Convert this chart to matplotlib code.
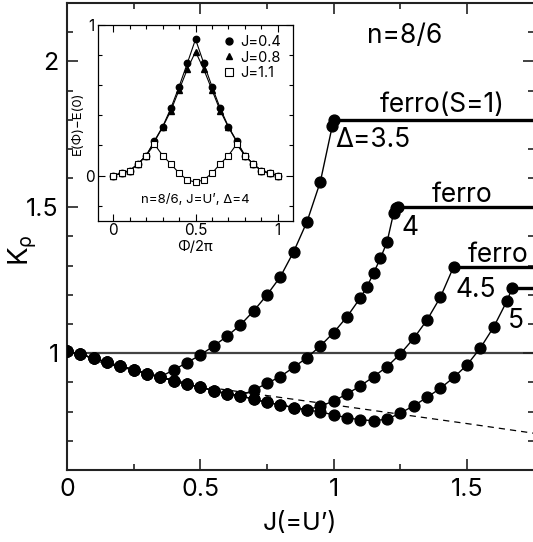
import matplotlib
matplotlib.use("Agg")
import matplotlib.pyplot as plt
from matplotlib.ticker import MultipleLocator, FixedLocator
from matplotlib.lines import Line2D

plt.rcParams['font.family'] = ['Inter', 'Liberation Sans', 'DejaVu Sans']
plt.rcParams['mathtext.fontset'] = 'custom'
plt.rcParams['mathtext.rm'] = 'Inter'
plt.rcParams['mathtext.it'] = 'Inter'

# ---------------- main data ----------------
# shared low-J part (all Delta)
J_common = [0.00, 0.05, 0.10, 0.15, 0.20, 0.25, 0.30, 0.35]
K_common = [1.008, 0.996, 0.983, 0.969, 0.955, 0.944, 0.930, 0.919]

# Delta = 3.5
J_d35 = [0.40, 0.45, 0.50, 0.55, 0.60, 0.65, 0.70, 0.75, 0.80, 0.85, 0.90, 0.95, 0.995, 1.00]
K_d35 = [0.943, 0.968, 0.994, 1.025, 1.058, 1.097, 1.145, 1.200, 1.262, 1.348, 1.451, 1.588, 1.780, 1.800]

# continuing common part for Delta >= 4
J_common2 = [0.40, 0.45, 0.50, 0.55, 0.60, 0.65]
K_common2 = [0.905, 0.894, 0.884, 0.872, 0.861, 0.855]

# Delta = 4
J_d4 = [0.70, 0.75, 0.80, 0.85, 0.90, 0.95, 1.00, 1.05, 1.10, 1.125, 1.15, 1.175, 1.20, 1.225, 1.235, 1.24]
K_d4 = [0.874, 0.897, 0.920, 0.952, 0.985, 1.025, 1.071, 1.125, 1.190, 1.228, 1.276, 1.325, 1.381, 1.482, 1.497, 1.500]

# continuing common part for Delta >= 4.5
J_common3 = [0.70, 0.75, 0.80, 0.85, 0.90]
K_common3 = [0.842, 0.832, 0.823, 0.814, 0.806]

# Delta = 4.5
J_d45 = [0.95, 1.00, 1.05, 1.10, 1.15, 1.20, 1.25, 1.30, 1.35, 1.40, 1.45]
K_d45 = [0.819, 0.836, 0.861, 0.888, 0.920, 0.954, 0.998, 1.051, 1.114, 1.192, 1.297]

# Delta = 5
J_d5 = [0.95, 1.00, 1.05, 1.10, 1.15, 1.20, 1.25, 1.30, 1.35, 1.40, 1.45, 1.50, 1.55, 1.60, 1.65, 1.67]
K_d5 = [0.799, 0.789, 0.779, 0.772, 0.769, 0.774, 0.795, 0.820, 0.849, 0.880, 0.917, 0.960, 1.018, 1.090, 1.180, 1.225]

# dashed reference curve
J_dash = [0.0, 0.25, 0.50, 0.75, 1.00, 1.25, 1.50, 1.75]
K_dash = [1.0, 0.940, 0.887, 0.855, 0.823, 0.791, 0.759, 0.726]

# ---------------- inset data ----------------
phi = [0.00, 0.05, 0.10, 0.15, 0.20, 0.25, 0.30, 0.35, 0.40, 0.45, 0.50,
       0.55, 0.60, 0.65, 0.70, 0.75, 0.80, 0.85, 0.90, 0.95, 1.00]
E_J04 = [0, 0.0155, 0.033, 0.077, 0.133, 0.230, 0.325, 0.447, 0.591, 0.746, 0.905,
         0.746, 0.591, 0.447, 0.325, 0.230, 0.133, 0.077, 0.033, 0.0155, 0]
E_J08 = [0, 0.0155, 0.033, 0.077, 0.133, 0.225, 0.321, 0.431, 0.569, 0.706, 0.823,
         0.706, 0.569, 0.431, 0.321, 0.225, 0.133, 0.077, 0.033, 0.0155, 0]
E_J11 = [0, 0.0155, 0.033, 0.077, 0.133, 0.208, 0.133, 0.077, 0.0155, -0.029, -0.044,
         -0.029, 0.0155, 0.077, 0.133, 0.208, 0.133, 0.077, 0.033, 0.0155, 0]

XMAX = 1.75

fig = plt.figure(figsize=(5.33, 5.42), dpi=100)
W, H = 533.0, 542.0
ax = fig.add_axes([67 / W, 1 - 470 / H, (1.75 * 266.7) / W, (470 - 3) / H])

ax.axhline(1.0, color='#444444', lw=1.6, zorder=1)
ax.plot(J_dash, K_dash, color='black', lw=0.9, ls=(0, (5, 4)), zorder=1)

mk = dict(color='black', lw=1.0, marker='o', ms=7.8, zorder=3)
curves = [
    (J_common + J_d35, K_common + K_d35),
    (J_common + J_common2 + J_d4, K_common + K_common2 + K_d4),
    (J_common + J_common2 + J_common3 + J_d45, K_common + K_common2 + K_common3 + K_d45),
    (J_common + J_common2 + J_common3 + J_d5, K_common + K_common2 + K_common3 + K_d5),
]
for Jc, Kc in curves:
    ax.plot(Jc, Kc, **mk)
    ax.plot([Jc[-1], XMAX], [Kc[-1], Kc[-1]], color='black', lw=2.4, zorder=2,
            solid_capstyle='butt')

ax.set_xlim(0, XMAX)
ax.set_ylim(0.6, 2.2)
ax.xaxis.set_major_locator(FixedLocator([0, 0.5, 1.0, 1.5]))
ax.xaxis.set_minor_locator(MultipleLocator(0.25))
ax.yaxis.set_major_locator(FixedLocator([1.0, 1.5, 2.0]))
ax.yaxis.set_minor_locator(MultipleLocator(0.1))
ax.set_xticklabels(['0', '0.5', '1', '1.5'])
ax.set_yticklabels(['1', '1.5', '2'])
ax.tick_params(which='both', direction='in', top=True, right=True, width=1.2,
               labelsize=18, color='#222222')
ax.tick_params(which='major', length=8, pad=6)
ax.tick_params(which='minor', length=4)
for s in ax.spines.values():
    s.set_linewidth(1.5)
    s.set_color('#222222')
ax.spines['right'].set_visible(False)

ax.set_xlabel("J(=U’)", fontsize=18, labelpad=8)
ax.set_ylabel(r"K$_\rho$", fontsize=20)
ax.yaxis.set_label_coords(-0.06, 0.47)

tk = dict(fontsize=19, ha='left', va='baseline')
ax.text(1.125, 2.063, "n=8/6", **tk)
ax.text(1.174, 1.827, "ferro(S=1)", **tk)
ax.text(1.005, 1.708, "Δ=3.5", **tk)
ax.text(1.369, 1.519, "ferro", **tk)
ax.text(1.256, 1.405, "4", **tk)
ax.text(1.504, 1.314, "ferro", **tk)
ax.text(1.455, 1.194, "4.5", **tk)
ax.text(1.654, 1.086, "5", **tk)

# ---------------- inset ----------------
ai = fig.add_axes([97.7 / W, 1 - 220.7 / H, 195 / W, 195.7 / H])
ai.plot(phi, E_J04, color='black', lw=0.8, marker='o', ms=4.6, zorder=3)
ai.plot(phi, E_J08, color='black', lw=0.8, marker='^', ms=4.4, zorder=3)
ai.plot(phi, E_J11, color='black', lw=0.8, marker='s', ms=5.0, mfc='white',
        mec='black', mew=0.8, zorder=4)
ai.set_xlim(-0.095, 1.091)
ai.set_ylim(-0.30, 1.0)
ai.xaxis.set_major_locator(FixedLocator([0, 0.5, 1.0]))
ai.xaxis.set_minor_locator(MultipleLocator(0.1))
ai.yaxis.set_major_locator(FixedLocator([0, 1.0]))
ai.yaxis.set_minor_locator(MultipleLocator(0.2))
ai.set_xticklabels(['0', '0.5', '1'])
ai.set_yticklabels(['0', '1'])
ai.tick_params(which='both', direction='in', top=True, right=True, width=0.8,
               labelsize=11, pad=2)
ai.tick_params(which='major', length=5)
ai.tick_params(which='minor', length=3)
for s in ai.spines.values():
    s.set_linewidth(0.9)
ai.set_xlabel("Φ/2π", fontsize=10.5, labelpad=1)
ai.set_ylabel("E(Φ)−E(0)", fontsize=9.5, labelpad=1)
ai.text(0.5, -0.165, "n=8/6, J=U’, Δ=4", fontsize=9.5, ha='center', va='center')

handles = [Line2D([], [], ls='None', marker='o', color='black', ms=5),
           Line2D([], [], ls='None', marker='^', color='black', ms=5),
           Line2D([], [], ls='None', marker='s', mfc='white', mec='black', ms=6, mew=0.8)]
ai.legend(handles, ["J=0.4", "J=0.8", "J=1.1"], loc='upper left',
          bbox_to_anchor=(0.645, 0.95), frameon=False, fontsize=10.5,
          handlelength=0.8, handletextpad=0.35, labelspacing=0.12,
          borderpad=0, borderaxespad=0)

fig.savefig("out.png", dpi=100)
